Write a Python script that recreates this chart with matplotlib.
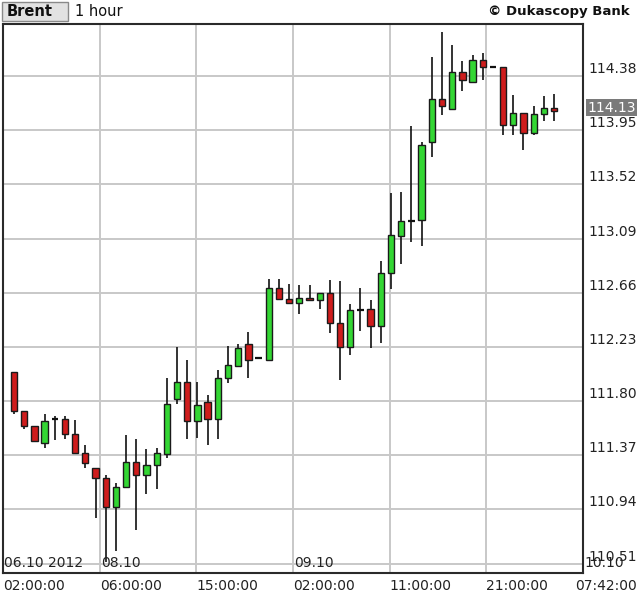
import numpy as np
import matplotlib
matplotlib.use('Agg')
import matplotlib.pyplot as plt
from matplotlib.patches import Rectangle

# hourly Brent candles
opens = [112.03, 111.72, 111.60, 111.47, 111.66, 111.66, 111.54, 111.39, 111.27, 111.19,
         110.96, 111.12, 111.32, 111.21, 111.29, 111.38, 111.82, 111.95, 111.64, 111.79,
         111.66, 111.98, 112.08, 112.25, 112.14, 112.13, 112.70, 112.61, 112.58, 112.62,
         112.60, 112.66, 112.42, 112.23, 112.52, 112.53, 112.40, 112.82, 113.11, 113.23,
         113.24, 113.86, 114.20, 114.12, 114.41, 114.33, 114.51, 114.45, 114.45, 113.99,
         114.09, 113.93, 114.08, 114.13]
highs = [112.03, 111.72, 111.60, 111.70, 111.68, 111.68, 111.65, 111.45, 111.27, 111.21,
         111.15, 111.53, 111.50, 111.42, 111.43, 111.98, 112.23, 112.13, 111.95, 111.85,
         112.05, 112.24, 112.25, 112.35, 112.14, 112.77, 112.77, 112.73, 112.72, 112.72,
         112.66, 112.76, 112.75, 112.57, 112.70, 112.60, 112.91, 113.45, 113.46, 113.98,
         113.86, 114.53, 114.73, 114.63, 114.50, 114.55, 114.56, 114.45, 114.45, 114.23,
         114.09, 114.14, 114.22, 114.24]
lows = [111.70, 111.58, 111.48, 111.43, 111.49, 111.50, 111.39, 111.27, 110.87, 110.52,
        110.61, 111.11, 110.78, 111.06, 111.10, 111.35, 111.78, 111.50, 111.51, 111.45,
        111.50, 111.94, 112.08, 111.98, 112.14, 112.13, 112.61, 112.58, 112.49, 112.60,
        112.53, 112.34, 111.97, 112.17, 112.36, 112.22, 112.26, 112.69, 112.89, 113.06,
        113.03, 113.74, 114.07, 114.12, 114.26, 114.33, 114.35, 114.45, 113.91, 113.91,
        113.79, 113.91, 114.02, 114.02]
closes = [111.72, 111.60, 111.48, 111.64, 111.66, 111.54, 111.39, 111.31, 111.19, 110.96,
          111.12, 111.32, 111.21, 111.29, 111.39, 111.78, 111.95, 111.64, 111.77, 111.66,
          111.98, 112.09, 112.22, 112.13, 112.14, 112.70, 112.61, 112.58, 112.62, 112.60,
          112.66, 112.42, 112.23, 112.52, 112.52, 112.40, 112.82, 113.12, 113.23, 113.23,
          113.83, 114.20, 114.14, 114.41, 114.35, 114.51, 114.45, 114.45, 113.99, 114.09,
          113.93, 114.08, 114.13, 114.10]

price_ticks = [110.51, 110.94, 111.37, 111.80, 112.23, 112.66, 113.09, 113.52, 113.95, 114.38]
time_labels = ['02:00:00', '06:00:00', '15:00:00', '02:00:00', '11:00:00', '21:00:00', '07:42:00']
date_labels = {0: '06.10 2012', 1: '08.10', 3: '09.10', 6: '10.10'}
last_price = 114.13

W, H = 640, 598
fig = plt.figure(figsize=(W / 100, H / 100), dpi=100)
ax = fig.add_axes([3 / W, 1 - 573 / H, 580 / W, 549 / H])

o = np.array(opens)
c = np.array(closes)
x = np.arange(len(o))
up = c > o
down = c < o
flat = c == o

# wicks
ax.vlines(x, lows, highs, color='#111111', lw=1.2, zorder=2)
# bodies
ax.bar(x[up], (c - o)[up], bottom=o[up], width=0.62, color='#33d633',
       edgecolor='#1a1a1a', lw=1.0, zorder=3)
ax.bar(x[down], (o - c)[down], bottom=c[down], width=0.62, color='#cf1c1c',
       edgecolor='#1a1a1a', lw=1.0, zorder=3)
ax.hlines(o[flat], x[flat] - 0.31, x[flat] + 0.31, color='#111111', lw=1.6, zorder=3)

ax.set_xlim(-1.08, 55.84)
ax.set_ylim(110.436, 114.793)

xt = np.linspace(*ax.get_xlim(), len(time_labels))
ax.set_xticks(xt)
# last label drawn separately so it stays inside the picture
ax.set_xticklabels(time_labels[:-1] + [''], ha='left', fontsize=10, color='#222222')
ax.annotate(time_labels[-1], xy=(1, 0), xycoords='axes fraction', xytext=(54, -6),
            textcoords='offset pixels', ha='right', va='top', fontsize=10, color='#222222',
            annotation_clip=False)
ax.set_yticks(price_ticks)
ax.set_yticklabels(['%.2f' % p for p in price_ticks], fontsize=10, color='#222222', va='bottom')
ax.yaxis.tick_right()
ax.tick_params(axis='both', length=0)
ax.tick_params(axis='x', pad=4)
ax.tick_params(axis='y', pad=4)
ax.grid(True, color='#c8c8c8', lw=1.4, zorder=0)
ax.set_axisbelow(True)
for s in ax.spines.values():
    s.set_color('#2a2a2a')
    s.set_linewidth(1.5)

for i, txt in date_labels.items():
    ax.text(xt[i] + 0.12, 110.44 + 0.02, txt, fontsize=10, color='#222222',
            ha='left', va='bottom', zorder=4, clip_on=False)

ax.annotate('%.2f' % last_price, xy=(1, last_price), xycoords=('axes fraction', 'data'),
            xytext=(4, 0), textcoords='offset pixels', ha='left', va='center',
            fontsize=10, color='white',
            bbox=dict(boxstyle='square,pad=0.08', fc='#7a7a7a', ec='none'))

# header
fig.patches.append(Rectangle((2 / W, 1 - 21 / H), 66 / W, 19 / H, transform=fig.transFigure,
                             fc='#e2e2e2', ec='#8a8a8a', lw=1.0))
fig.text(7 / W, 1 - 11.5 / H, 'Brent', fontsize=10.5, fontweight='bold', color='#111111',
         ha='left', va='center')
fig.text(75 / W, 1 - 11.5 / H, '1 hour', fontsize=10.5, color='#111111', ha='left', va='center')
fig.text(630 / W, 1 - 11 / H, '\u00a9 Dukascopy Bank', fontsize=9.5, fontweight='bold',
         color='#111111', ha='right', va='center')

fig.savefig('out.png', dpi=100, facecolor='white')
